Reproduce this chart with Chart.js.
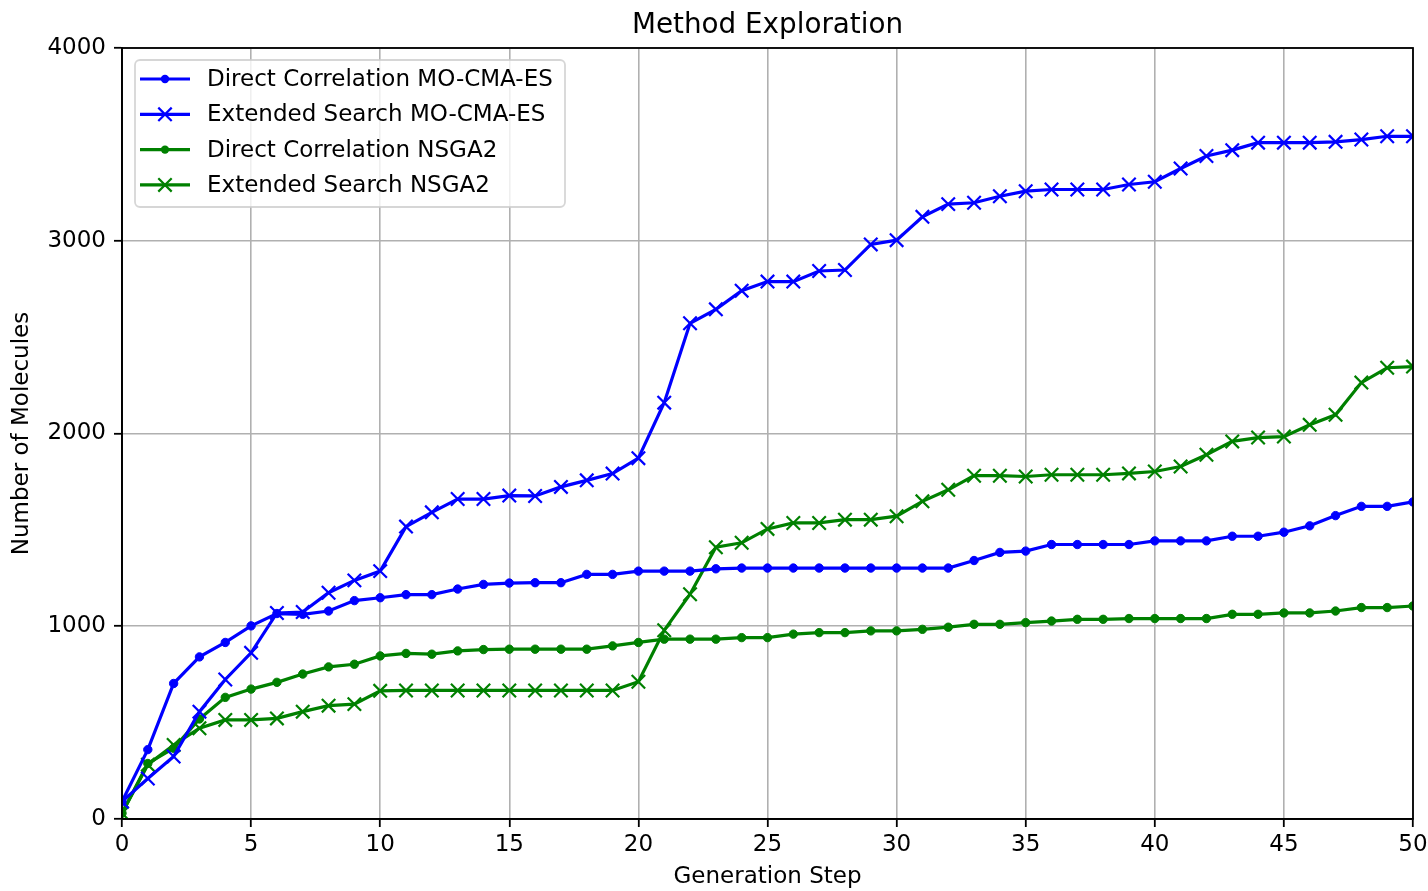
<!DOCTYPE html>
<html>
<head>
<meta charset="utf-8">
<script src="https://cdn.jsdelivr.net/npm/chart.js@4/dist/chart.umd.min.js"></script>
<style>
  html, body { margin: 0; padding: 0; background: #ffffff; }
  #wrap { width: 1428px; height: 891px; }
</style>
</head>
<body>
<div id="wrap"><canvas id="chart" width="1428" height="891"></canvas></div>
<script>
// Generation steps 0..50
const steps = [0,1,2,3,4,5,6,7,8,9,10,11,12,13,14,15,16,17,18,19,20,21,22,23,24,25,
  26,27,28,29,30,31,32,33,34,35,36,37,38,39,40,41,42,43,44,45,46,47,48,49,50];

// Cumulative number of molecules per method
const directCorrelationMO = [90,360,703,841,916,1002,1066,1062,1079,1133,1148,1164,1164,1193,1217,1224,1226,1226,1269,1269,
  1286,1286,1286,1298,1302,1302,1302,1302,1302,1302,1302,1302,1302,1341,1383,1390,1424,1424,1424,1424,
  1443,1443,1443,1467,1467,1488,1521,1574,1622,1622,1645];
const extendedSearchMO = [90,210,324,557,724,862,1069,1074,1174,1238,1286,1517,1591,1660,1660,1678,1676,1723,1757,1792,
  1872,2160,2572,2644,2741,2788,2788,2843,2848,2981,3003,3124,3190,3197,3231,3257,3266,3266,3266,3292,
  3306,3375,3440,3470,3509,3509,3509,3513,3525,3542,3542];
const directCorrelationNSGA = [30,288,367,519,631,674,709,752,789,803,846,859,855,872,879,881,881,881,881,898,
  916,933,933,933,941,941,959,967,967,976,976,984,995,1010,1010,1019,1027,1036,1036,1040,
  1040,1040,1040,1062,1062,1069,1069,1079,1097,1097,1105];
const extendedSearchNSGA = [30,282,384,471,514,514,522,557,588,596,665,667,667,667,667,667,667,667,667,667,
  712,979,1166,1410,1433,1505,1536,1536,1553,1553,1571,1648,1708,1781,1781,1777,1786,1786,1786,1793,
  1803,1829,1890,1959,1979,1984,2045,2097,2264,2341,2347];

const seriesNames = ['Direct Correlation MO-CMA-ES', 'Extended Search MO-CMA-ES',
  'Direct Correlation NSGA2', 'Extended Search NSGA2'];
const xTicks = [0,5,10,15,20,25,30,35,40,45,50];
const yTicks = [0,1000,2000,3000,4000];
const chartTitle = 'Method Exploration';

const FONT = 'DejaVu Sans';
const TEXT_SIZE = 23;
const BLUE = '#0000ff';
const GREEN = '#008000';

function points(values) {
  return steps.map((s, i) => ({ x: s, y: values[i] }));
}

function dotSeries(label, values, color) {
  return {
    label, data: points(values), borderColor: color, backgroundColor: color,
    borderWidth: 3.2, pointStyle: 'circle', pointRadius: 4.2, pointBorderWidth: 1,
    pointBackgroundColor: color, pointBorderColor: color, tension: 0, clip: 0,
    markerKind: 'dot'
  };
}
function crossSeries(label, values, color) {
  return {
    label, data: points(values), borderColor: color, backgroundColor: color,
    borderWidth: 3.2, pointStyle: 'crossRot', pointRadius: 9.5, pointBorderWidth: 2.2,
    pointBorderColor: color, tension: 0, clip: 0, markerKind: 'cross'
  };
}

// Title centred over the axes, box around the axes and a legend inside the plot
const framePlugin = {
  id: 'frame',
  afterDatasetsDraw(chart) {
    const { ctx, chartArea: a } = chart;
    ctx.save();

    // title
    ctx.fillStyle = '#000000';
    ctx.font = '27.8px "' + FONT + '"';
    ctx.textAlign = 'center';
    ctx.textBaseline = 'middle';
    ctx.fillText(chartTitle, (a.left + a.right) / 2, 26);

    // legend
    const lx = a.left + 13, ly = a.top + 12, lw = 430, lh = 147, r = 5;
    ctx.beginPath();
    ctx.moveTo(lx + r, ly);
    ctx.arcTo(lx + lw, ly, lx + lw, ly + lh, r);
    ctx.arcTo(lx + lw, ly + lh, lx, ly + lh, r);
    ctx.arcTo(lx, ly + lh, lx, ly, r);
    ctx.arcTo(lx, ly, lx + lw, ly, r);
    ctx.closePath();
    ctx.fillStyle = 'rgba(255,255,255,0.8)';
    ctx.fill();
    ctx.strokeStyle = 'rgba(204,204,204,0.8)';
    ctx.lineWidth = 1.8;
    ctx.stroke();

    chart.data.datasets.forEach((ds, k) => {
      const y = a.top + 31 + k * 35.3;
      const x0 = a.left + 18, x1 = a.left + 68, xm = (x0 + x1) / 2;
      ctx.strokeStyle = ds.borderColor;
      ctx.lineWidth = ds.borderWidth;
      ctx.beginPath(); ctx.moveTo(x0, y); ctx.lineTo(x1, y); ctx.stroke();
      if (ds.markerKind === 'dot') {
        ctx.fillStyle = ds.borderColor;
        ctx.beginPath(); ctx.arc(xm, y, 4.2, 0, Math.PI * 2); ctx.fill();
      } else {
        const d = 6.7;
        ctx.lineWidth = ds.pointBorderWidth;
        ctx.beginPath();
        ctx.moveTo(xm - d, y - d); ctx.lineTo(xm + d, y + d);
        ctx.moveTo(xm - d, y + d); ctx.lineTo(xm + d, y - d);
        ctx.stroke();
      }
      ctx.fillStyle = '#000000';
      ctx.font = TEXT_SIZE + 'px "' + FONT + '"';
      ctx.textBaseline = 'middle';
      ctx.textAlign = 'left';
      ctx.fillText(ds.label, a.left + 85, y + 1);
    });

    // axes frame
    ctx.strokeStyle = '#000000';
    ctx.lineWidth = 1.8;
    ctx.strokeRect(a.left, a.top, a.right - a.left, a.bottom - a.top);
    ctx.restore();
  }
};

new Chart(document.getElementById('chart'), {
  type: 'line',
  data: {
    datasets: [
      dotSeries(seriesNames[0], directCorrelationMO, BLUE),
      crossSeries(seriesNames[1], extendedSearchMO, BLUE),
      dotSeries(seriesNames[2], directCorrelationNSGA, GREEN),
      crossSeries(seriesNames[3], extendedSearchNSGA, GREEN)
    ]
  },
  options: {
    responsive: false,
    animation: false,
    devicePixelRatio: 1,
    layout: { padding: { left: 0, right: 15, top: 48, bottom: 0 } },
    plugins: {
      legend: { display: false },
      tooltip: { enabled: false },
      title: { display: false }
    },
    scales: {
      x: {
        type: 'linear',
        min: 0, max: 50,
        afterBuildTicks(scale) { scale.ticks = xTicks.map(v => ({ value: v })); },
        afterFit(scale) { scale.height = 72; scale.paddingLeft = 0; scale.paddingRight = 0; },
        ticks: {
          color: '#000000',
          font: { family: FONT, size: TEXT_SIZE },
          padding: 4,
          maxRotation: 0,
          autoSkip: false,
          callback: (v) => String(v)
        },
        grid: { color: '#b0b0b0', lineWidth: 1.6, tickLength: 8, tickColor: '#000000', tickWidth: 1.8 },
        border: { color: '#000000', width: 1.8 },
        title: {
          display: true, text: 'Generation Step', color: '#000000',
          font: { family: FONT, size: TEXT_SIZE }, padding: { top: 0, bottom: 0 }
        }
      },
      y: {
        type: 'linear',
        min: 0, max: 4000,
        afterBuildTicks(scale) { scale.ticks = yTicks.map(v => ({ value: v })); },
        afterFit(scale) { scale.width = 122; scale.paddingTop = 0; scale.paddingBottom = 0; },
        ticks: {
          color: '#000000',
          font: { family: FONT, size: TEXT_SIZE },
          padding: 8,
          autoSkip: false,
          callback: (v) => String(v)
        },
        grid: { color: '#b0b0b0', lineWidth: 1.6, tickLength: 8, tickColor: '#000000', tickWidth: 1.8 },
        border: { color: '#000000', width: 1.8 },
        title: {
          display: true, text: 'Number of Molecules', color: '#000000',
          font: { family: FONT, size: TEXT_SIZE }, padding: { top: 8, bottom: 0 }
        }
      }
    }
  },
  plugins: [framePlugin]
});
</script>
</body>
</html>
